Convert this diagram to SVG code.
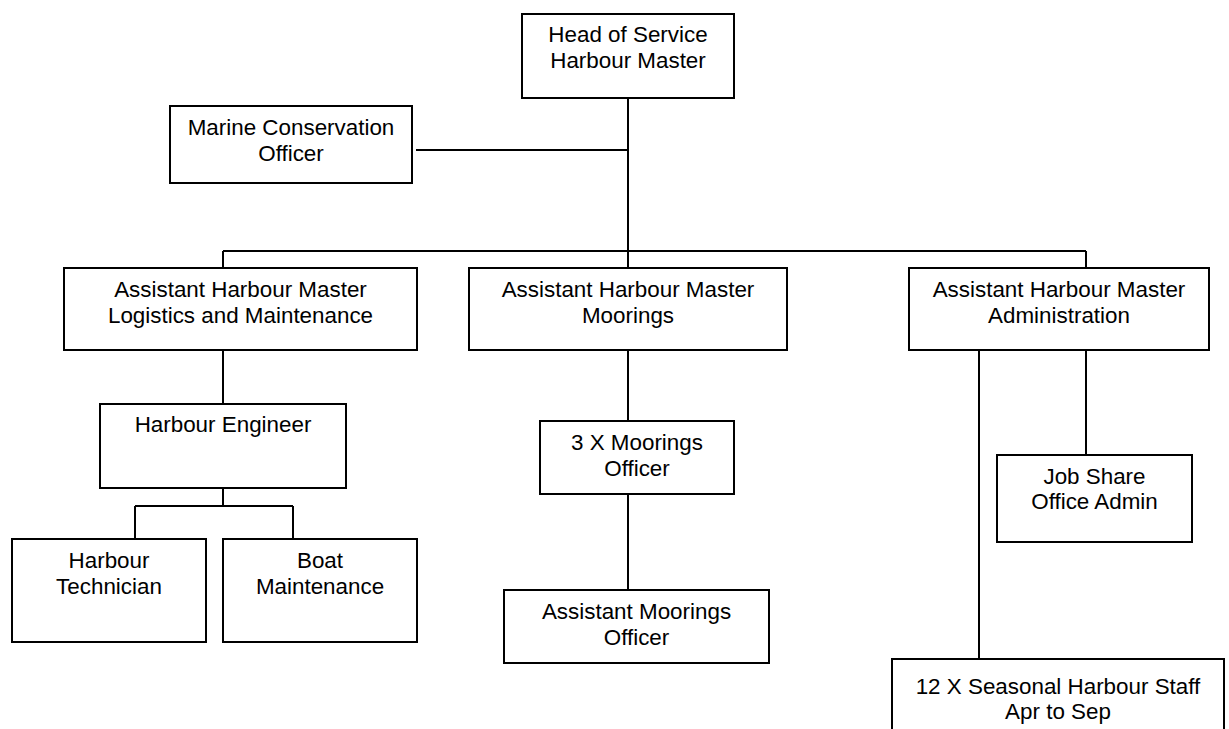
<svg xmlns="http://www.w3.org/2000/svg" width="1229" height="729" viewBox="0 0 1229 729">
<style>
.box{fill:#fff;stroke:#000;stroke-width:2}
.ln{fill:none;stroke:#000;stroke-width:2}
text{font-family:"Liberation Sans",Arial,sans-serif;font-size:22.4px;fill:#000;text-anchor:middle}
</style>
<rect width="1229" height="729" fill="#fff"/>
<g id="connectors">
<path class="ln" d="M628 98 V268"/>
<path class="ln" d="M416 150 H628"/>
<path class="ln" d="M223 251 H1086"/>
<path class="ln" d="M223 251 V268"/>
<path class="ln" d="M1086 251 V268"/>
<path class="ln" d="M223 350 V404"/>
<path class="ln" d="M223 488 V506 M135 506 H293 M135 506 V539 M293 506 V539"/>
<path class="ln" d="M628 350 V421"/>
<path class="ln" d="M628 494 V590"/>
<path class="ln" d="M1086 350 V455"/>
<path class="ln" d="M979 350 V659"/>
</g>
<g id="head">
<rect class="box" x="522" y="14" width="212" height="84"/>
<text x="628" y="42">Head of Service</text>
<text x="628" y="68">Harbour Master</text>
</g>
<g id="marine">
<rect class="box" x="170" y="106" width="242" height="77"/>
<text x="291" y="135">Marine Conservation</text>
<text x="291" y="161">Officer</text>
</g>
<g id="ahm-logistics">
<rect class="box" x="64" y="268" width="353" height="82"/>
<text x="240.5" y="297">Assistant Harbour Master</text>
<text x="240.5" y="322.5">Logistics and Maintenance</text>
</g>
<g id="ahm-moorings">
<rect class="box" x="469" y="268" width="318" height="82"/>
<text x="628" y="297">Assistant Harbour Master</text>
<text x="628" y="322.5">Moorings</text>
</g>
<g id="ahm-admin">
<rect class="box" x="909" y="268" width="300" height="82"/>
<text x="1059" y="297">Assistant Harbour Master</text>
<text x="1059" y="322.5">Administration</text>
</g>
<g id="engineer">
<rect class="box" x="100" y="404" width="246" height="84"/>
<text x="223" y="431.5">Harbour Engineer</text>
</g>
<g id="technician">
<rect class="box" x="12" y="539" width="194" height="103"/>
<text x="109" y="568">Harbour</text>
<text x="109" y="594">Technician</text>
</g>
<g id="boat">
<rect class="box" x="223" y="539" width="194" height="103"/>
<text x="320" y="568">Boat</text>
<text x="320" y="594">Maintenance</text>
</g>
<g id="moorings-officer">
<rect class="box" x="540" y="421" width="194" height="73"/>
<text x="637" y="450">3 X Moorings</text>
<text x="637" y="476">Officer</text>
</g>
<g id="asst-moorings">
<rect class="box" x="504" y="590" width="265" height="73"/>
<text x="636.5" y="619">Assistant Moorings</text>
<text x="636.5" y="644.5">Officer</text>
</g>
<g id="job-share">
<rect class="box" x="997" y="455" width="195" height="87"/>
<text x="1094.5" y="484">Job Share</text>
<text x="1094.5" y="509">Office Admin</text>
</g>
<g id="seasonal">
<rect class="box" x="892" y="659" width="332" height="90"/>
<text x="1058" y="694">12 X Seasonal Harbour Staff</text>
<text x="1058" y="719">Apr to Sep</text>
</g>
</svg>
